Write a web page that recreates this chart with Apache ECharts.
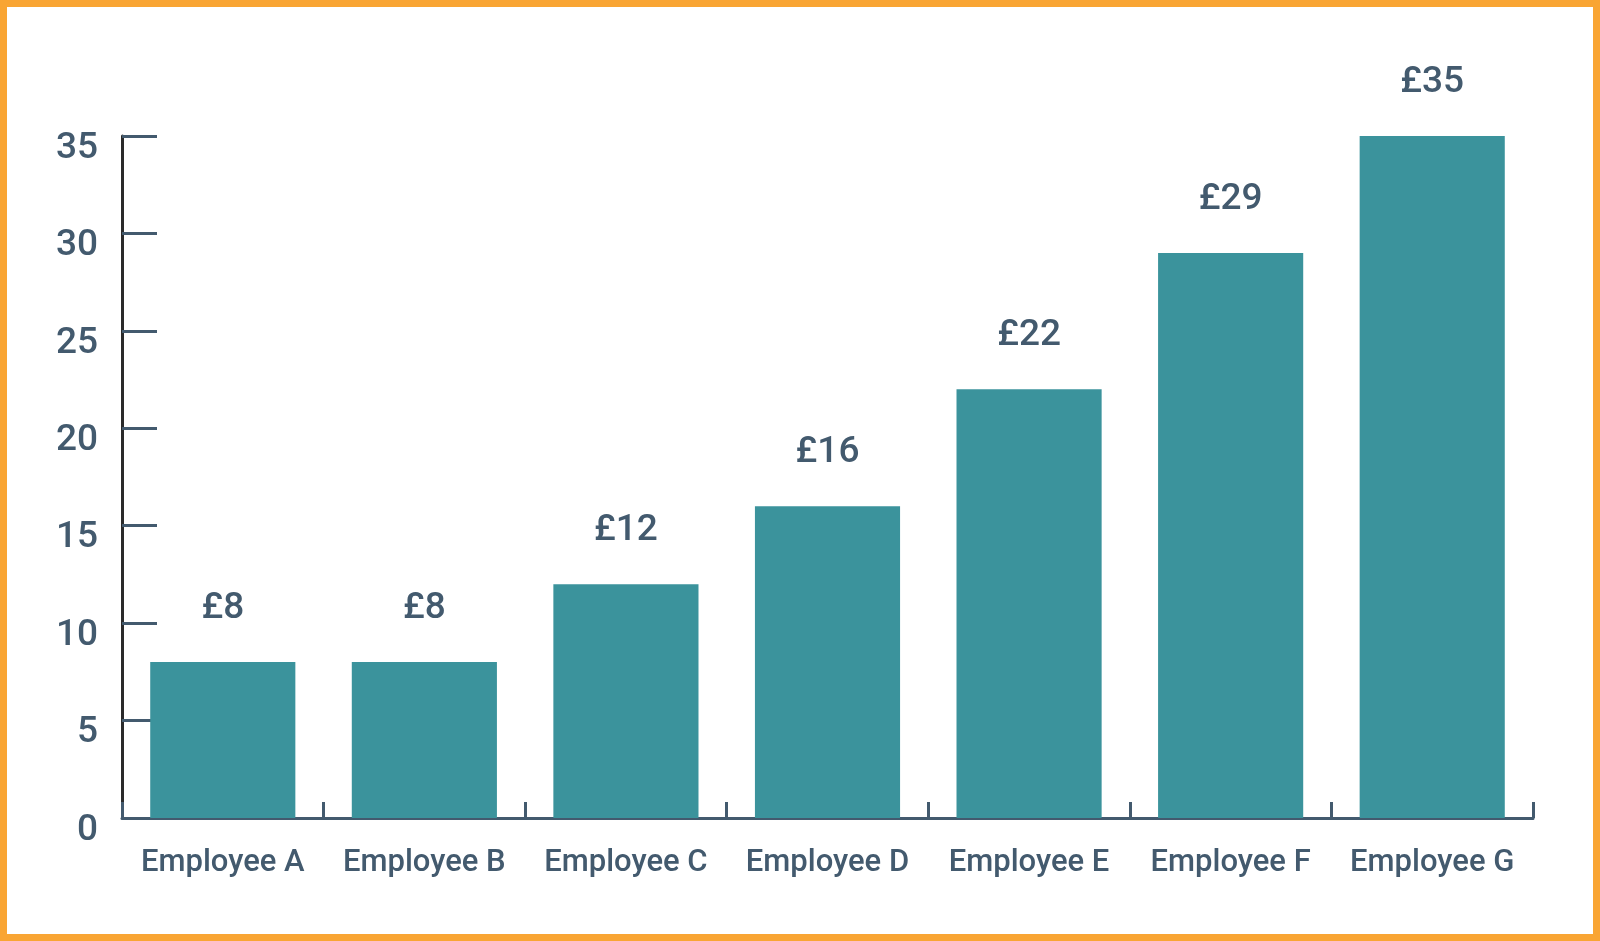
<!DOCTYPE html>
<html>
<head>
<meta charset="utf-8">
<script src="https://cdn.jsdelivr.net/npm/echarts@6/dist/echarts.min.js"></script>
<style>
html,body{margin:0;padding:0;background:#fff;}
#frame{position:absolute;left:0;top:0;width:1600px;height:941px;box-sizing:border-box;border:7px solid #F9A533;}
#chart{position:absolute;left:0;top:0;width:1600px;height:941px;}
</style>
</head>
<body>
<div id="frame"></div>
<div id="chart"></div>
<script>
const categories = ['Employee A','Employee B','Employee C','Employee D','Employee E','Employee F','Employee G'];
const values = [8, 8, 12, 16, 22, 29, 35];
const yTicks = [0, 5, 10, 15, 20, 25, 30, 35];

const textColor = '#435a6e';
const chart = echarts.init(document.getElementById('chart'), null, {renderer:'canvas'});
chart.setOption({
  animation: false,
  grid: {left: 122, right: 67, top: 136, bottom: 123, containLabel: false},
  xAxis: {
    type: 'category',
    data: categories,
    boundaryGap: true,
    axisLine: {show: true, lineStyle: {color: textColor, width: 3}},
    axisTick: {show: true, inside: true, length: 16, interval: 0, lineStyle: {color: textColor, width: 3}},
    axisLabel: {color: textColor, fontFamily: 'Roboto', fontWeight: 500, fontSize: 31, margin: 30, interval: 0}
  },
  yAxis: {
    type: 'value',
    min: yTicks[0],
    max: yTicks[yTicks.length - 1],
    interval: 5,
    splitLine: {show: false},
    axisLine: {show: true, lineStyle: {color: '#2a2a2a', width: 3}},
    axisTick: {show: true, inside: true, length: 35, lineStyle: {color: textColor, width: 3}},
    axisLabel: {color: textColor, fontFamily: 'Roboto', fontWeight: 500, fontSize: 37, margin: 24, verticalAlign: 'top', lineHeight: 25}
  },
  series: [{
    type: 'bar',
    data: values,
    barWidth: '72%',
    itemStyle: {color: '#3b939c'},
    label: {
      show: true,
      position: 'top',
      distance: 35,
      color: textColor,
      fontFamily: 'Roboto',
      fontWeight: 500,
      fontSize: 37,
      formatter: p => '£' + p.value
    }
  }]
});
</script>
</body>
</html>
